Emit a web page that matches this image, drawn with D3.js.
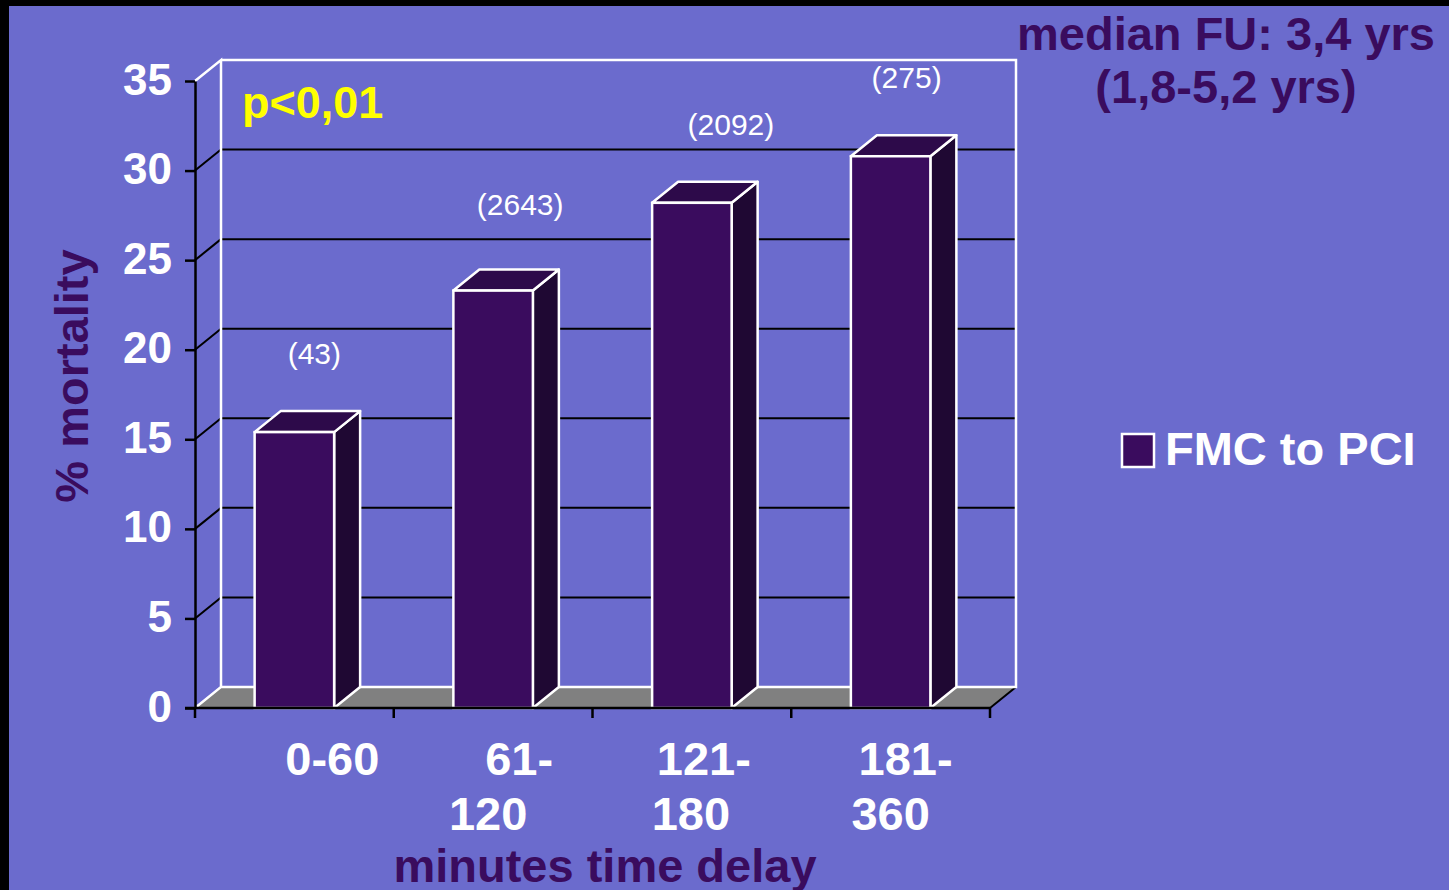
<!DOCTYPE html>
<html>
<head>
<meta charset="utf-8">
<script src="https://cdn.jsdelivr.net/npm/d3@7"></script>
<style>
  html, body { margin: 0; padding: 0; background: #000; }
  svg { display: block; }
  text { font-family: "Liberation Sans", Arial, sans-serif; }
</style>
</head>
<body>
<svg id="chart" width="1449" height="890"></svg>
<script>
// Mortality by first-medical-contact-to-PCI delay
const categories = ["0-60", "61-120", "121-180", "181-360"];
const categoryLines = [["0-60"], ["61-", "120"], ["121-", "180"], ["181-", "360"]];
const mortality = [15.4, 23.3, 28.2, 30.8];
const patientCounts = ["(43)", "(2643)", "(2092)", "(275)"];
const yTicks = [0, 5, 10, 15, 20, 25, 30, 35];
const seriesName = "FMC to PCI";
const followUp = ["median FU: 3,4 yrs", "(1,8-5,2 yrs)"];
const pValue = "p<0,01";

// hand placement of the wrapped category labels and the count labels
const catLineShift = [[38], [26, -5], [12, -1], [15, 0]];
const countShift = [[20, 0], [27, -8], [39, 0], [16, 0]];

const W = 1449, H = 890;
const BG = "#6b6bcd";
const DARK = "#3a0c5e";
const FRONT = "#3a0c5e", SIDE = "#1f0833", TOP = "#2d0a4a";
const FLOOR = "#808080";

const svg = d3.select("#chart");

// page frame
svg.append("rect").attr("width", W).attr("height", H).attr("fill", "#000");
svg.append("rect").attr("x", 9).attr("y", 6).attr("width", W - 9).attr("height", H - 6).attr("fill", BG);

// plot geometry (front plane) and 3-D depth offset
const x0 = 195, x1 = 990, yBase = 708, yTop = 81;
const dx = 26, dy = -21;

const y = d3.scaleLinear().domain([0, 35]).range([yBase, yTop]);
const xCat = d3.scaleBand().domain(categories).range([x0, x1]).padding(0);
const xBar = d3.scaleBand().domain(categories).range([x0, x1])
  .paddingInner(0.6).paddingOuter(0.3);

const g = svg.append("g");

// back wall
g.append("rect")
  .attr("x", x0 + dx).attr("y", y(35) + dy)
  .attr("width", x1 - x0).attr("height", y(0) - y(35))
  .attr("fill", BG);

// gridlines on the back wall plus the diagonal links to the axis ticks
yTicks.filter(t => t > 0 && t < 35).forEach(t => {
  g.append("line")
    .attr("x1", x0 + dx).attr("x2", x1 + dx)
    .attr("y1", y(t) + dy).attr("y2", y(t) + dy)
    .attr("stroke", "#000").attr("stroke-width", 2);
  g.append("line")
    .attr("x1", x0).attr("y1", y(t))
    .attr("x2", x0 + dx).attr("y2", y(t) + dy)
    .attr("stroke", "#000").attr("stroke-width", 2);
});

// floor
g.append("path")
  .attr("d", `M${x0},${y(0)} L${x1},${y(0)} L${x1 + dx},${y(0) + dy} L${x0 + dx},${y(0) + dy} Z`)
  .attr("fill", FLOOR);
g.append("line")
  .attr("x1", x1).attr("y1", y(0)).attr("x2", x1 + dx).attr("y2", y(0) + dy)
  .attr("stroke", "#000").attr("stroke-width", 2);

// wall outline (white)
g.append("path")
  .attr("d", `M${x0},${y(0)} L${x0 + dx},${y(0) + dy} L${x0 + dx},${y(35) + dy} L${x0},${y(35)}` +
             ` M${x0 + dx},${y(35) + dy} L${x1 + dx},${y(35) + dy} L${x1 + dx},${y(0) + dy} L${x0 + dx},${y(0) + dy}`)
  .attr("fill", "none").attr("stroke", "#fff").attr("stroke-width", 2.5);

// y axis
const yAxis = d3.axisLeft(y).tickValues(yTicks).tickSize(10).tickSizeOuter(0).tickPadding(13);
const ya = svg.append("g").attr("transform", `translate(${x0},0)`).call(yAxis);
ya.select(".domain").attr("stroke", "#000").attr("stroke-width", 2.5);
ya.selectAll(".tick line").attr("stroke", "#000").attr("stroke-width", 2.5);
ya.selectAll(".tick text")
  .attr("fill", "#fff").attr("font-size", 44).attr("font-weight", "bold")
  .attr("font-family", '"Liberation Sans", Arial, sans-serif')
  .attr("dy", null).attr("y", 13);

// bars (front, side, top faces)
const bars = g.selectAll("g.bar").data(categories).enter().append("g").attr("class", "bar");
bars.each(function (c, i) {
  const b = d3.select(this);
  const bx0 = xBar(c), bx1 = xBar(c) + xBar.bandwidth();
  const by = y(mortality[i]), bb = y(0);
  b.append("path")
    .attr("d", `M${bx1},${by} L${bx1 + dx},${by + dy} L${bx1 + dx},${bb + dy} L${bx1},${bb} Z`)
    .attr("fill", SIDE).attr("stroke", "#fff").attr("stroke-width", 2.5).attr("stroke-linejoin", "round");
  b.append("path")
    .attr("d", `M${bx0},${by} L${bx0 + dx},${by + dy} L${bx1 + dx},${by + dy} L${bx1},${by} Z`)
    .attr("fill", TOP).attr("stroke", "#fff").attr("stroke-width", 2.5).attr("stroke-linejoin", "round");
  b.append("rect")
    .attr("x", bx0).attr("y", by).attr("width", bx1 - bx0).attr("height", bb - by)
    .attr("fill", FRONT).attr("stroke", "#fff").attr("stroke-width", 2.5);
});

// x axis with ticks at category boundaries
const xa = svg.append("g");
xa.append("line").attr("x1", x0 - 10).attr("x2", x1).attr("y1", yBase).attr("y2", yBase)
  .attr("stroke", "#000").attr("stroke-width", 2.5);
const bounds = categories.map(c => xCat(c)).concat([x1]);
xa.selectAll("line.xt").data(bounds).enter().append("line").attr("class", "xt")
  .attr("x1", d => d).attr("x2", d => d).attr("y1", yBase).attr("y2", yBase + 10)
  .attr("stroke", "#000").attr("stroke-width", 2.5);

// category labels
categories.forEach((c, i) => {
  const cx = xCat(c) + xCat.bandwidth() / 2;
  const t = svg.append("text")
    .attr("fill", "#fff").attr("font-size", 47).attr("font-weight", "bold")
    .attr("text-anchor", "middle");
  categoryLines[i].forEach((ln, k) => {
    t.append("tspan").attr("x", cx + catLineShift[i][k]).attr("y", 775 + k * 55).text(ln);
  });
});

// patient counts above the bars
patientCounts.forEach((n, i) => {
  const c = categories[i];
  svg.append("text")
    .attr("x", xBar(c) + xBar.bandwidth() / 2 + countShift[i][0])
    .attr("y", y(mortality[i]) - 68 + countShift[i][1])
    .attr("fill", "#fff").attr("font-size", 30).attr("text-anchor", "middle")
    .text(n);
});

// axis titles
svg.append("text")
  .attr("transform", "translate(88,376) rotate(-90)")
  .attr("text-anchor", "middle").attr("fill", DARK)
  .attr("font-size", 47).attr("font-weight", "bold")
  .text("% mortality");
svg.append("text")
  .attr("x", 605).attr("y", 882)
  .attr("text-anchor", "middle").attr("fill", DARK)
  .attr("font-size", 47).attr("font-weight", "bold")
  .text("minutes time delay");

// significance
svg.append("text")
  .attr("x", 242).attr("y", 118)
  .attr("fill", "#ffff00").attr("font-size", 45).attr("font-weight", "bold")
  .text(pValue);

// follow-up note
followUp.forEach((ln, k) => {
  svg.append("text")
    .attr("x", 1226).attr("y", 50 + k * 53)
    .attr("text-anchor", "middle").attr("fill", DARK)
    .attr("font-size", 47).attr("font-weight", "bold")
    .text(ln);
});

// legend
svg.append("rect")
  .attr("x", 1122).attr("y", 434).attr("width", 32).attr("height", 33)
  .attr("fill", FRONT).attr("stroke", "#fff").attr("stroke-width", 2.5);
svg.append("text")
  .attr("x", 1165).attr("y", 465)
  .attr("fill", "#fff").attr("font-size", 47).attr("font-weight", "bold")
  .text(seriesName);
</script>
</body>
</html>
